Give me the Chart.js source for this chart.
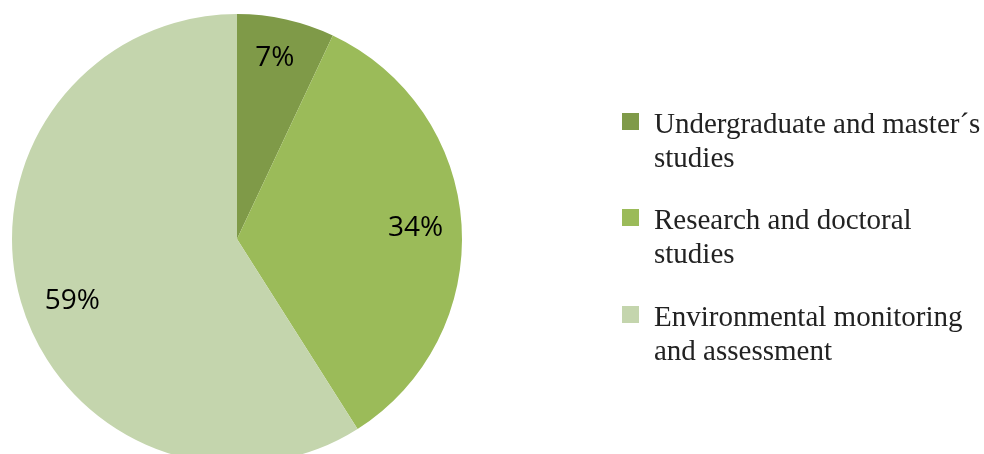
<!DOCTYPE html>
<html>
<head>
<meta charset="utf-8">
<script src="https://cdn.jsdelivr.net/npm/chart.js@4/dist/chart.umd.min.js"></script>
<style>
  html, body { margin: 0; padding: 0; background: #fff; overflow: hidden; }
  #wrap { position: relative; width: 984px; height: 454px; overflow: hidden; }
  #pie { position: absolute; left: 0; top: 0; }
  .legend-item { position: absolute; left: 622px; }
  .legend-item .box { position: absolute; left: 0; top: 0; width: 17px; height: 17px; }
  .legend-item .txt {
    position: absolute; left: 32px; top: -7px; white-space: nowrap;
    font-family: "Liberation Serif", "DejaVu Serif", serif;
    font-size: 29px; line-height: 34px; color: #222;
  }
</style>
</head>
<body>
<div id="wrap">
  <canvas id="pie" width="984" height="478"></canvas>
  <div id="legend"></div>
</div>
<script>
// Phân bổ theo lĩnh vực hoạt động (%)
const categories = [
  ['Undergraduate and master´s', 'studies'],
  ['Research and doctoral', 'studies'],
  ['Environmental monitoring', 'and assessment']
];
const shares = [7, 34, 59];
const sliceColors = ['#7f9a48', '#9bbb59', '#c4d5ad'];
const legendTops = [113, 209, 306];

// vị trí nhãn: tỉ lệ bán kính và dịch chỉnh nhỏ (px)
const labelRadius = [0.81, 0.8, 0.79];
const labelNudge = [[-2, -3], [-1, 0], [6, 12]];

// Nhãn phần trăm vẽ bên trong từng lát
const sliceLabels = {
  id: 'sliceLabels',
  afterDatasetsDraw(chart) {
    const ctx = chart.ctx;
    const meta = chart.getDatasetMeta(0);
    ctx.save();
    ctx.font = '28px "Open Sans", sans-serif';
    ctx.fillStyle = '#000';
    ctx.textAlign = 'center';
    ctx.textBaseline = 'middle';
    meta.data.forEach((arc, i) => {
      const { x, y, startAngle, endAngle, outerRadius } = arc.getProps(['x', 'y', 'startAngle', 'endAngle', 'outerRadius'], true);
      const mid = (startAngle + endAngle) / 2;
      const r = outerRadius * labelRadius[i];
      ctx.fillText(shares[i] + '%',
        x + Math.cos(mid) * r + labelNudge[i][0],
        y + Math.sin(mid) * r + labelNudge[i][1]);
    });
    ctx.restore();
  }
};

new Chart(document.getElementById('pie'), {
  type: 'pie',
  data: {
    labels: categories,
    datasets: [{
      data: shares,
      backgroundColor: sliceColors,
      borderWidth: 0
    }]
  },
  options: {
    responsive: false,
    animation: false,
    devicePixelRatio: 1,
    layout: { padding: { left: 12, right: 522, top: 14, bottom: 14 } },
    plugins: {
      legend: { display: false },
      tooltip: { enabled: false }
    }
  },
  plugins: [sliceLabels]
});

// Chú thích bên phải
const legend = document.getElementById('legend');
categories.forEach((lines, i) => {
  const item = document.createElement('div');
  item.className = 'legend-item';
  item.style.top = legendTops[i] + 'px';
  const box = document.createElement('div');
  box.className = 'box';
  box.style.background = sliceColors[i];
  const txt = document.createElement('div');
  txt.className = 'txt';
  txt.innerHTML = lines.join('<br>');
  item.appendChild(box);
  item.appendChild(txt);
  legend.appendChild(item);
});
</script>
</body>
</html>
